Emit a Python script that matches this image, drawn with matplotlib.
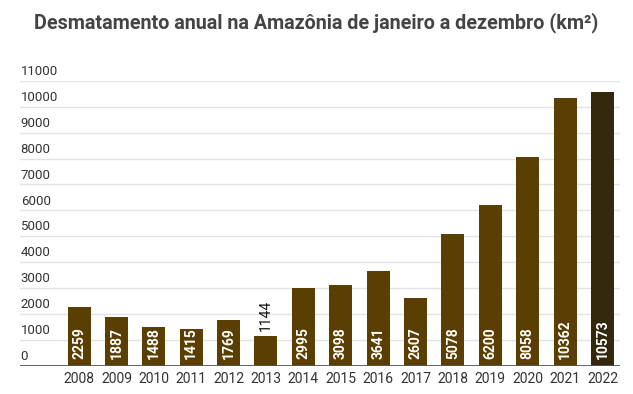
import matplotlib.pyplot as plt
import matplotlib.transforms as mtransforms

years = ['2008', '2009', '2010', '2011', '2012', '2013', '2014', '2015',
         '2016', '2017', '2018', '2019', '2020', '2021', '2022']
area_km2 = [2259, 1887, 1488, 1415, 1769, 1144, 2995, 3098,
            3641, 2607, 5078, 6200, 8058, 10362, 10573]
y_ticks = [0, 1000, 2000, 3000, 4000, 5000, 6000, 7000, 8000, 9000, 10000, 11000]

plt.rcParams['font.family'] = ['Roboto', 'DejaVu Sans']

bar_color = '#5a3e02'
last_color = '#33270c'
colors = [bar_color] * (len(years) - 1) + [last_color]

fig = plt.figure(figsize=(6.33, 3.94), dpi=100)
ax = fig.add_axes([20 / 633, 28.5 / 394, 600 / 633, 284.5 / 394])

x = list(range(len(years)))
bars = ax.bar(x, area_km2, width=0.615, color=colors, zorder=2)

ax.set_xlim(-1.58, 14.47)
ax.set_ylim(0, 11000)

for v in y_ticks[1:]:
    ax.axhline(v, color='#e3e3e3', lw=1.0, zorder=1)
ax.axhline(0, color='#555555', lw=2.0, zorder=3)

# y labels sit just above their gridlines, flush left
trans = mtransforms.blended_transform_factory(ax.transAxes, ax.transData)
offset = mtransforms.offset_copy(trans, fig=fig, x=0.5, y=2, units='points')
for v in y_ticks:
    ax.text(0, v, str(v), transform=offset, ha='left', va='bottom',
            fontsize=9.5, color='#333333')

ax.set_xticks(x)
ax.set_xticklabels(years, fontsize=10, color='#333333')
ax.tick_params(axis='x', length=0, pad=5)
ax.set_yticks([])
for s in ax.spines.values():
    s.set_visible(False)

for xi, v in zip(x, area_km2):
    if v < 1200:
        ax.annotate(str(v), (xi, v), xytext=(0, 3.5), textcoords='offset points',
                    rotation=90, ha='center', va='bottom', fontsize=10,
                    color='#111111')
    else:
        ax.annotate(str(v), (xi, 0), xytext=(0, 4.5), textcoords='offset points',
                    rotation=90, ha='center', va='bottom', fontsize=10,
                    color='white', fontweight='bold')

fig.text(0.5, 1 - 23 / 394, 'Desmatamento anual na Amazônia de janeiro a dezembro (km²)',
         ha='center', va='center', fontsize=14.2, fontweight='bold', color='#444444')

fig.savefig('out.png', dpi=100, facecolor='white')
